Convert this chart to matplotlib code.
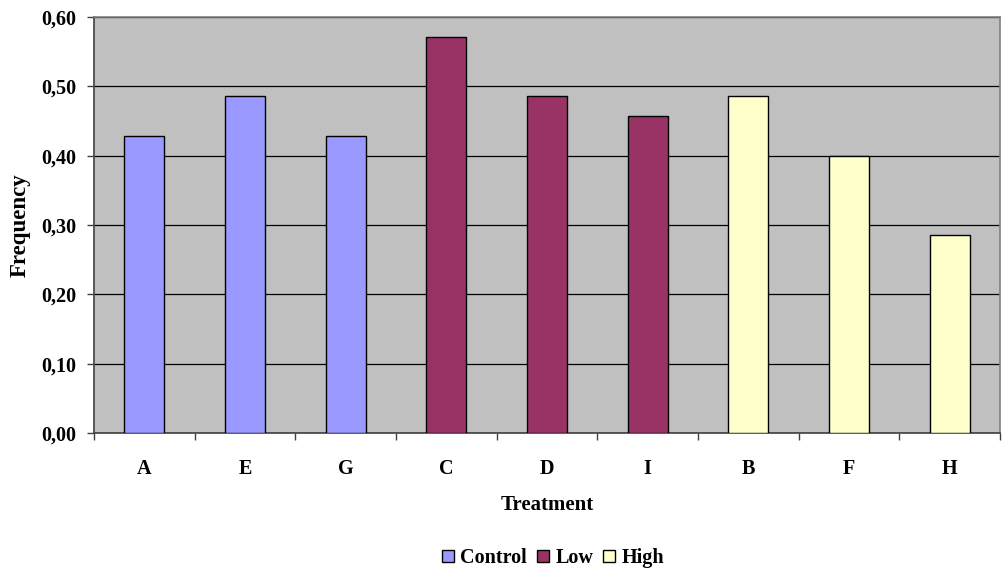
import matplotlib
matplotlib.use("Agg")
import matplotlib.pyplot as plt
from matplotlib.patches import Patch
from matplotlib.ticker import FuncFormatter, MultipleLocator

# Treatment groups, in plotting order
treatments = ["A", "E", "G", "C", "D", "I", "B", "F", "H"]
groups = ["Control", "Control", "Control", "Low", "Low", "Low", "High", "High", "High"]
frequency = [0.4286, 0.4857, 0.4286, 0.5714, 0.4857, 0.4571, 0.4857, 0.4000, 0.2857]

group_names = ["Control", "Low", "High"]
group_colors = {"Control": "#9999FF", "Low": "#993366", "High": "#FFFFCC"}

plt.rcParams["font.family"] = ["Liberation Serif", "DejaVu Serif"]
plt.rcParams["font.weight"] = "bold"

W, H = 1003, 574
fig = plt.figure(figsize=(W / 100, H / 100), dpi=100)
ax = fig.add_axes([94 / W, (H - 433) / H, 906 / W, 416 / H])
ax.set_facecolor("#C0C0C0")

x = list(range(len(treatments)))
colors = [group_colors[g] for g in groups]
ax.bar(x, frequency, width=0.4, color=colors, edgecolor="black", linewidth=1.0, zorder=3)

ax.set_xlim(-0.5, len(treatments) - 0.5)
ax.set_ylim(0, 0.6)
ax.yaxis.set_major_locator(MultipleLocator(0.1))
ax.yaxis.set_major_formatter(FuncFormatter(lambda v, _: f"{v:.2f}".replace(".", ",")))
ax.grid(axis="y", color="black", linewidth=0.9, zorder=1)

ax.set_xticks(x)
ax.set_xticklabels(treatments)
ax.set_xticks([i - 0.5 for i in range(len(treatments) + 1)], minor=True)
ax.tick_params(axis="x", which="major", length=0, pad=19, labelsize=14.5)
ax.tick_params(axis="x", which="minor", length=5, width=1, color="#404040", direction="out")
ax.tick_params(axis="y", length=5, width=1, color="#404040", direction="out", pad=8, labelsize=14.5)

for side in ("left", "bottom"):
    ax.spines[side].set_color("#404040")
    ax.spines[side].set_linewidth(1.2)
for side in ("top", "right"):
    ax.spines[side].set_color("#808080")
    ax.spines[side].set_linewidth(1.2)

ax.set_xlabel("Treatment", fontsize=15, fontweight="bold", labelpad=11)
ax.set_ylabel("Frequency", fontsize=16.5, fontweight="bold", labelpad=7)

handles = [Patch(facecolor=group_colors[g], edgecolor="black", linewidth=1.0, label=g)
           for g in group_names]
fig.legend(handles=handles, loc="center", bbox_to_anchor=(553 / W, 1 - 558 / H), ncol=3,
           frameon=False, fontsize=14.5, handlelength=0.6, handleheight=0.6,
           handletextpad=0.3, columnspacing=0.5)

fig.savefig("out.png", dpi=100)
